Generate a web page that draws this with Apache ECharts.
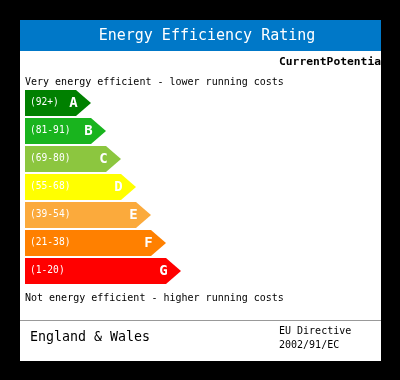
<!DOCTYPE html>
<html>
<head>
<meta charset="utf-8">
<script src="https://cdn.jsdelivr.net/npm/echarts@6/dist/echarts.min.js"></script>
<style>
html,body{margin:0;padding:0;background:#000;}
#chart{width:400px;height:380px;}
</style>
</head>
<body>
<div id="chart"></div>
<script>
const title = 'Energy Efficiency Rating';
const columnHeaders = 'CurrentPotential';
const topNote = 'Very energy efficient - lower running costs';
const bottomNote = 'Not energy efficient - higher running costs';
const region = 'England & Wales';
const directive = ['EU Directive', '2002/91/EC'];
const categories = ['A', 'B', 'C', 'D', 'E', 'F', 'G'];
const ranges = ['(92+)', '(81-91)', '(69-80)', '(55-68)', '(39-54)', '(21-38)', '(1-20)'];
const barLengths = [66, 81, 96, 111, 126, 141, 156];
const bandColors = ['#008000', '#19b41e', '#8cc63f', '#ffff00', '#fbaa3c', '#ff8000', '#ff0000'];

const FONT = '"DejaVu Sans Mono", "Liberation Mono", monospace';

const chart = echarts.init(document.getElementById('chart'), null, {renderer: 'canvas'});

const option = {
  backgroundColor: '#000',
  animation: false,
  grid: {left: 25, top: 89, height: 196, width: 355, containLabel: false},
  xAxis: {type: 'value', min: 0, max: 355, show: false},
  yAxis: {type: 'category', data: categories, inverse: true, show: false},
  graphic: [
    {type: 'rect', z: -10, shape: {x: 20, y: 20, width: 361, height: 341}, style: {fill: '#fff'}},
    {type: 'rect', z: 1, shape: {x: 20, y: 20, width: 361, height: 31}, style: {fill: '#0078c8'}},
    {type: 'text', z: 2, x: 207, y: 36, style: {text: title, fill: '#fff', font: '15px ' + FONT, align: 'center', verticalAlign: 'middle'}},
    {type: 'text', z: 2, x: 279, y: 62, style: {text: columnHeaders, fill: '#000', font: 'bold 11.3px ' + FONT, align: 'left', verticalAlign: 'middle'}},
    {type: 'rect', z: 3, shape: {x: 381, y: 50, width: 19, height: 30}, style: {fill: '#000'}},
    {type: 'text', z: 2, x: 25, y: 82, style: {text: topNote, fill: '#000', font: '10px ' + FONT, align: 'left', verticalAlign: 'middle'}},
    {type: 'text', z: 2, x: 25, y: 298, style: {text: bottomNote, fill: '#000', font: '10px ' + FONT, align: 'left', verticalAlign: 'middle'}},
    {type: 'rect', z: 2, shape: {x: 20, y: 320, width: 361, height: 1}, style: {fill: '#999'}},
    {type: 'text', z: 2, x: 30, y: 338, style: {text: region, fill: '#000', font: '13.3px ' + FONT, align: 'left', verticalAlign: 'middle'}},
    {type: 'text', z: 2, x: 279, y: 331.5, style: {text: directive[0], fill: '#000', font: '10px ' + FONT, align: 'left', verticalAlign: 'middle'}},
    {type: 'text', z: 2, x: 279, y: 345.5, style: {text: directive[1], fill: '#000', font: '10px ' + FONT, align: 'left', verticalAlign: 'middle'}}
  ],
  series: [{
    type: 'custom',
    encode: {x: 0, y: 1},
    data: categories.map((c, i) => [barLengths[i], c, ranges[i]]),
    renderItem: function (params, api) {
      const idx = params.dataIndex;
      const start = api.coord([0, categories[idx]]);
      const end = api.coord([api.value(0), categories[idx]]);
      const h = api.size([0, 1])[1] * 0.93;
      const tip = h * 0.577;
      const x0 = start[0], x2 = end[0], x1 = x2 - tip, yc = start[1];
      return {
        type: 'group',
        children: [
          {type: 'polygon', shape: {points: [[x0, yc - h / 2], [x1, yc - h / 2], [x2, yc], [x1, yc + h / 2], [x0, yc + h / 2]]},
           style: {fill: bandColors[idx]}},
          {type: 'text', x: x0 + 5, y: yc - 1, style: {text: ranges[idx], fill: '#fff', font: '9.6px ' + FONT, align: 'left', verticalAlign: 'middle'}},
          {type: 'text', x: x1 - 2.5, y: yc + 0.5, style: {text: categories[idx], fill: '#fff', font: 'bold 14px ' + FONT, align: 'center', verticalAlign: 'middle'}}
        ]
      };
    }
  }]
};
chart.setOption(option);
</script>
</body>
</html>
